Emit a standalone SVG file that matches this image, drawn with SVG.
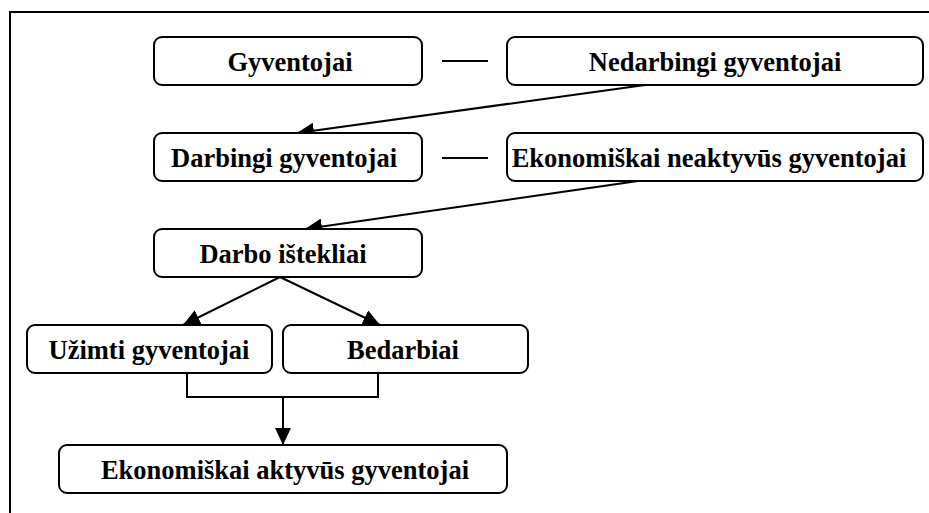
<svg xmlns="http://www.w3.org/2000/svg" width="929" height="513" viewBox="0 0 929 513">
<style>
.box{fill:#fff;stroke:#000;stroke-width:2}
.t{font-family:'Liberation Serif','Times New Roman',Tinos,'DejaVu Serif',serif;font-weight:700;font-size:26.5px;fill:#000;text-anchor:middle}
.ln{fill:none;stroke:#000;stroke-width:2}
</style>
<defs>
<marker id="ah" markerUnits="userSpaceOnUse" markerWidth="18" markerHeight="16" refX="17" refY="8" orient="auto">
<path d="M0,0 L17,8 L0,16 Z" fill="#000"/>
</marker>
</defs>
<rect width="929" height="513" fill="#fff"/>
<path d="M10,513 V12 H929" class="ln"/>
<g id="connectors">
<line x1="442" y1="61" x2="488" y2="61" class="ln"/>
<line x1="442" y1="158" x2="488" y2="158" class="ln"/>
<line x1="645" y1="85" x2="297" y2="133" class="ln" marker-end="url(#ah)"/>
<line x1="638" y1="181" x2="305" y2="229" class="ln" marker-end="url(#ah)"/>
<line x1="280" y1="277" x2="183" y2="325" class="ln" marker-end="url(#ah)"/>
<line x1="280" y1="277" x2="380" y2="325" class="ln" marker-end="url(#ah)"/>
<path d="M187,373 V397 H378 V373" class="ln"/>
<line x1="283" y1="397" x2="283" y2="445" class="ln" marker-end="url(#ah)"/>
</g>
<g id="gyventojai"><rect class="box" x="154" y="37" width="268" height="48" rx="8"/><text class="t" x="290" y="71">Gyventojai</text></g>
<g id="nedarbingi"><rect class="box" x="507" y="37" width="416" height="48" rx="8"/><text class="t" x="715" y="71">Nedarbingi gyventojai</text></g>
<g id="darbingi"><rect class="box" x="154" y="133" width="268" height="48" rx="8"/><text class="t" x="284" y="167">Darbingi gyventojai</text></g>
<g id="neaktyvus"><rect class="box" x="507" y="133" width="416" height="48" rx="8"/><text class="t" x="709" y="167">Ekonomiškai neaktyvūs gyventojai</text></g>
<g id="darbo"><rect class="box" x="154" y="229" width="268" height="48" rx="8"/><text class="t" x="283" y="263">Darbo ištekliai</text></g>
<g id="uzimti"><rect class="box" x="27" y="325" width="245" height="48" rx="8"/><text class="t" x="149" y="359">Užimti gyventojai</text></g>
<g id="bedarbiai"><rect class="box" x="283" y="325" width="245" height="48" rx="8"/><text class="t" x="403" y="359">Bedarbiai</text></g>
<g id="aktyvus"><rect class="box" x="59" y="445" width="448" height="48" rx="8"/><text class="t" x="285" y="479">Ekonomiškai aktyvūs gyventojai</text></g>
</svg>
